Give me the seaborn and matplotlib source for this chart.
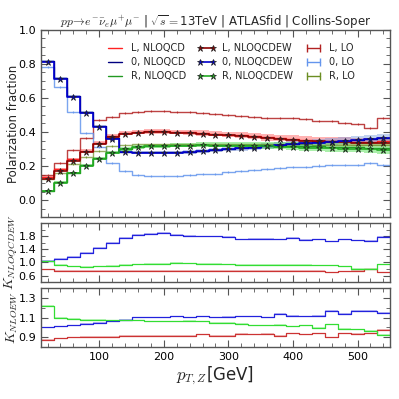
import numpy as np
import pandas as pd
import matplotlib
matplotlib.use("Agg")
import matplotlib.pyplot as plt
import seaborn as sns
from matplotlib.lines import Line2D
from matplotlib.ticker import MultipleLocator

# bin edges in pT,Z [GeV]
edges = np.arange(10, 551, 20)

# polarization fractions
L_nloqcd = [0.135, 0.18, 0.24, 0.29, 0.335, 0.375, 0.395, 0.40, 0.403, 0.403, 0.40, 0.398, 0.395,
            0.39, 0.385, 0.38, 0.375, 0.37, 0.365, 0.36, 0.355, 0.35, 0.347, 0.345, 0.343, 0.34, 0.345]
L_nloqcd_err = [0.008, 0.008, 0.01, 0.01, 0.012, 0.012, 0.012, 0.013, 0.013, 0.014, 0.014, 0.015, 0.016,
                0.016, 0.017, 0.018, 0.018, 0.02, 0.02, 0.02, 0.022, 0.022, 0.022, 0.024, 0.024, 0.025, 0.025]
L_nloqcdew = [0.125, 0.17, 0.228, 0.28, 0.328, 0.37, 0.39, 0.397, 0.398, 0.398, 0.396, 0.393, 0.39,
              0.385, 0.38, 0.375, 0.37, 0.365, 0.36, 0.355, 0.35, 0.346, 0.343, 0.34, 0.338, 0.335, 0.335]
zero_nloqcd = [0.815, 0.716, 0.61, 0.515, 0.435, 0.362, 0.285, 0.28, 0.28, 0.28, 0.28, 0.283, 0.29,
               0.295, 0.30, 0.305, 0.31, 0.318, 0.325, 0.33, 0.335, 0.34, 0.345, 0.35, 0.355, 0.36, 0.365]
zero_nloqcd_err = [0.006, 0.006, 0.007, 0.007, 0.008, 0.008, 0.008, 0.008, 0.009, 0.01, 0.01, 0.011, 0.012,
                   0.013, 0.014, 0.015, 0.016, 0.017, 0.018, 0.019, 0.02, 0.021, 0.022, 0.023, 0.024, 0.025, 0.025]
zero_nloqcdew = [0.81, 0.713, 0.608, 0.513, 0.432, 0.36, 0.283, 0.278, 0.277, 0.277, 0.278, 0.28, 0.287,
                 0.293, 0.298, 0.303, 0.308, 0.316, 0.323, 0.328, 0.333, 0.338, 0.343, 0.348, 0.353, 0.358, 0.362]
R_nloqcd = [0.055, 0.105, 0.16, 0.205, 0.245, 0.28, 0.30, 0.312, 0.318, 0.32, 0.322, 0.323, 0.325,
            0.325, 0.325, 0.325, 0.323, 0.322, 0.32, 0.318, 0.317, 0.315, 0.313, 0.312, 0.31, 0.308, 0.305]
R_nloqcd_err = [0.006, 0.006, 0.007, 0.008, 0.008, 0.009, 0.01, 0.01, 0.011, 0.012, 0.012, 0.013, 0.014,
                0.015, 0.016, 0.017, 0.018, 0.02, 0.022, 0.024, 0.026, 0.028, 0.03, 0.03, 0.03, 0.032, 0.035]
R_nloqcdew = [0.053, 0.102, 0.158, 0.203, 0.243, 0.278, 0.298, 0.31, 0.316, 0.318, 0.32, 0.32, 0.321,
              0.32, 0.32, 0.319, 0.317, 0.315, 0.312, 0.31, 0.308, 0.306, 0.304, 0.302, 0.3, 0.298, 0.295]
L_lo = [0.147, 0.216, 0.294, 0.362, 0.468, 0.49, 0.51, 0.52, 0.522, 0.522, 0.52, 0.518, 0.51,
        0.505, 0.50, 0.495, 0.49, 0.485, 0.482, 0.48, 0.478, 0.465, 0.466, 0.455, 0.445, 0.425, 0.48]
zero_lo = [0.78, 0.665, 0.52, 0.395, 0.31, 0.22, 0.168, 0.148, 0.143, 0.141, 0.141, 0.145, 0.152,
           0.155, 0.165, 0.172, 0.176, 0.182, 0.187, 0.195, 0.197, 0.203, 0.205, 0.207, 0.208, 0.218, 0.208]
R_lo = [0.125, 0.16, 0.21, 0.255, 0.29, 0.315, 0.325, 0.33, 0.332, 0.332, 0.332, 0.332, 0.331,
        0.33, 0.33, 0.33, 0.329, 0.328, 0.328, 0.327, 0.327, 0.326, 0.326, 0.325, 0.325, 0.324, 0.323]

# K factors NLOQCDEW / LO
K_qcdew_L = [0.79, 0.75, 0.74, 0.74, 0.74, 0.745, 0.75, 0.75, 0.75, 0.745, 0.74, 0.74, 0.745,
             0.75, 0.74, 0.745, 0.74, 0.75, 0.74, 0.735, 0.74, 0.74, 0.70, 0.73, 0.74, 0.79, 0.70]
K_qcdew_0 = [1.04, 1.10, 1.17, 1.29, 1.44, 1.60, 1.75, 1.85, 1.87, 1.90, 1.84, 1.82, 1.79,
             1.79, 1.77, 1.70, 1.72, 1.72, 1.70, 1.75, 1.69, 1.70, 1.64, 1.70, 1.67, 1.65, 1.77]
K_qcdew_R = [1.03, 0.93, 0.88, 0.87, 0.88, 0.90, 0.93, 0.94, 0.95, 0.96, 0.98, 0.97, 0.96,
             0.95, 0.94, 0.93, 0.93, 0.93, 0.92, 0.93, 0.92, 0.91, 0.91, 0.88, 0.81, 0.81, 0.94]

# K factors NLOEW / LO
K_ew_L = [0.873, 0.89, 0.90, 0.905, 0.905, 0.905, 0.913, 0.913, 0.913, 0.916, 0.916, 0.916, 0.93,
          0.913, 0.916, 0.935, 0.93, 0.935, 0.913, 0.94, 0.93, 0.942, 0.90, 0.94, 0.935, 0.94, 0.977]
K_ew_0 = [1.0, 1.01, 1.02, 1.035, 1.05, 1.07, 1.08, 1.105, 1.105, 1.105, 1.115, 1.105, 1.115,
          1.105, 1.11, 1.115, 1.115, 1.105, 1.14, 1.12, 1.115, 1.12, 1.168, 1.14, 1.17, 1.168, 1.15]
K_ew_R = [1.22, 1.10, 1.088, 1.08, 1.08, 1.074, 1.072, 1.072, 1.064, 1.064, 1.064, 1.07, 1.064,
          1.046, 1.05, 1.04, 1.02, 1.02, 1.027, 1.01, 1.02, 0.995, 1.03, 0.984, 0.98, 0.967, 0.925]

sns.set_style("ticks")
plt.rcParams["font.family"] = ["DejaVu Sans"]
plt.rcParams["mathtext.fontset"] = "cm"
plt.rcParams["axes.edgecolor"] = "#555555"
plt.rcParams["xtick.color"] = "#555555"
plt.rcParams["ytick.color"] = "#555555"
plt.rcParams["xtick.labelcolor"] = "black"
plt.rcParams["ytick.labelcolor"] = "black"

centers = 0.5 * (edges[:-1] + edges[1:])


def stepline(ax, vals, color, lw=1.0, alpha=1.0):
    y = np.append(vals, vals[-1])
    sns.lineplot(x=edges, y=y, drawstyle="steps-post", color=color, lw=lw,
                 alpha=alpha, ax=ax, legend=False)


def band(ax, vals, err, color, alpha=0.45):
    v = np.asarray(vals)
    e = np.asarray(err)
    ax.fill_between(edges, np.append(v - e, v[-1] - e[-1]), np.append(v + e, v[-1] + e[-1]),
                    step="post", color=color, alpha=alpha, lw=0)


fig = plt.figure(figsize=(3.99, 3.99), dpi=100)
ax1 = fig.add_axes([0.103, 0.456, 0.874, 0.469])
ax2 = fig.add_axes([0.103, 0.293, 0.874, 0.148])
ax3 = fig.add_axes([0.103, 0.130, 0.874, 0.148])

# main panel
band(ax1, L_nloqcd, L_nloqcd_err, "#ff5555")
band(ax1, zero_nloqcd, zero_nloqcd_err, "#7799dd")
band(ax1, R_nloqcd, R_nloqcd_err, "#44dd44")

stepline(ax1, L_lo, "#b22222", lw=1.0, alpha=0.85)
stepline(ax1, zero_lo, "#6495ed", lw=1.0, alpha=0.85)
stepline(ax1, R_lo, "#6b8e23", lw=1.0, alpha=0.7)
for vals, c in [(L_lo, "#b22222"), (zero_lo, "#6495ed"), (R_lo, "#6b8e23")]:
    ax1.errorbar(centers, vals, yerr=0.006, fmt="none", ecolor=c, elinewidth=0.8, alpha=0.8)

stepline(ax1, L_nloqcd, "#ff2222", lw=1.0)
stepline(ax1, zero_nloqcd, "#000080", lw=1.0)
stepline(ax1, R_nloqcd, "#229922", lw=1.0)

for vals, c in [(L_nloqcdew, "#8b0000"), (zero_nloqcdew, "#0000cd"), (R_nloqcdew, "#22aa22")]:
    stepline(ax1, vals, c, lw=1.2)
    ax1.plot(centers, vals, ls="none", marker="*", ms=5, mfc=c, mec="#222222", mew=0.5)

ax1.set_xlim(10, 550)
ax1.set_ylim(-0.1, 1.0)
ax1.set_ylabel("Polarization fraction", fontsize=8.5)
ax1.set_title(r"$pp\!\to\!e^{-}\bar{\nu}_{e}\mu^{+}\mu^{-}$ | $\sqrt{s}=$13TeV | ATLASfid | Collins-Soper",
              fontsize=8.5, pad=2)
ax1.yaxis.set_major_locator(MultipleLocator(0.2))
ax1.yaxis.set_minor_locator(MultipleLocator(0.05))

handles = [
    Line2D([], [], color="#ff2222", lw=1.0),
    Line2D([], [], color="#000080", lw=1.0),
    Line2D([], [], color="#229922", lw=1.0),
    Line2D([], [], color="#8b0000", lw=1.2, marker="*", ms=5, mfc="#8b0000", mec="#222222", mew=0.5),
    Line2D([], [], color="#0000cd", lw=1.2, marker="*", ms=5, mfc="#0000cd", mec="#222222", mew=0.5),
    Line2D([], [], color="#22aa22", lw=1.2, marker="*", ms=5, mfc="#22aa22", mec="#222222", mew=0.5),
    Line2D([], [], color="#b22222", lw=1.0, marker="|", ms=6),
    Line2D([], [], color="#6495ed", lw=1.0, marker="|", ms=6),
    Line2D([], [], color="#6b8e23", lw=1.0, marker="|", ms=6),
]
labels = ["L, NLOQCD", "0, NLOQCD", "R, NLOQCD",
          "L, NLOQCDEW", "0, NLOQCDEW", "R, NLOQCDEW",
          "L, LO", "0, LO", "R, LO"]
ax1.legend(handles, labels, ncol=3, loc="upper right", frameon=False, fontsize=7,
           numpoints=2, handlelength=2.0, columnspacing=1.1, handletextpad=0.6,
           labelspacing=0.4, bbox_to_anchor=(0.925, 0.975))

# K NLOQCDEW panel
for vals, c in [(K_qcdew_L, "#cc3333"), (K_qcdew_0, "#2222dd"), (K_qcdew_R, "#33dd33")]:
    band(ax2, vals, [0.02] * len(vals), c, alpha=0.3)
    stepline(ax2, vals, c, lw=0.9)
ax2.set_xlim(10, 550)
ax2.set_ylim(0.4, 2.2)
ax2.yaxis.set_minor_locator(MultipleLocator(0.2))
ax2.set_yticks([0.6, 1.0, 1.4, 1.8])
ax2.set_ylabel(r"$K_{NLOQCDEW}$", fontsize=10)

# K NLOEW panel
for vals, c in [(K_ew_L, "#cc3333"), (K_ew_0, "#2222dd"), (K_ew_R, "#33dd33")]:
    band(ax3, vals, [0.006] * len(vals), c, alpha=0.3)
    stepline(ax3, vals, c, lw=0.9)
ax3.set_xlim(10, 550)
ax3.set_ylim(0.8, 1.4)
ax3.yaxis.set_minor_locator(MultipleLocator(0.1))
ax3.set_yticks([0.9, 1.1, 1.3])
ax3.set_ylabel(r"$K_{NLOEW}$", fontsize=10)
ax3.set_xlabel(r"$p_{T,Z}$[GeV]", fontsize=12, labelpad=2)

for ax in (ax1, ax2, ax3):
    ax.xaxis.set_major_locator(MultipleLocator(100))
    ax.xaxis.set_minor_locator(MultipleLocator(20))
    ax.tick_params(which="both", direction="in", top=True, right=True, labelsize=8)
    ax.tick_params(which="major", length=5, width=0.8)
    ax.tick_params(which="minor", length=3, width=0.6)
    for s in ax.spines.values():
        s.set_linewidth(1.0)
    ax.yaxis.set_label_coords(-0.06, 0.5)
ax1.tick_params(labelbottom=False)
ax2.tick_params(labelbottom=False)
for ax in (ax1, ax2):
    ax.set_xlabel("")

fig.savefig("out.png", dpi=100)
